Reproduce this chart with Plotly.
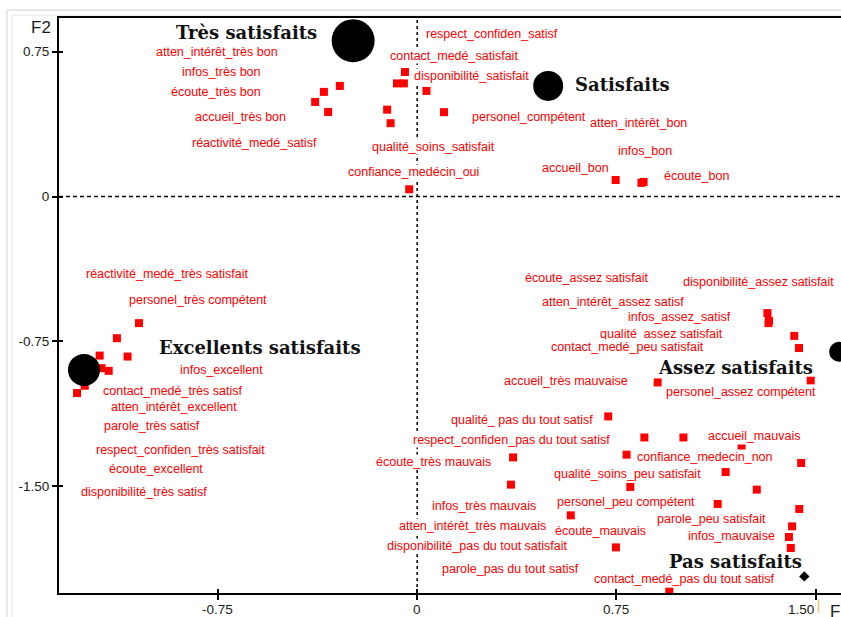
import plotly.graph_objects as go

# ---- data: modalities (red squares), F1 / F2 coordinates ----
mod_x = [-0.291, -0.351, -0.384, -0.335, -0.113, -0.100, -0.030, -0.046, -0.076, -0.050,
         0.035, 0.101, 0.747, 0.844, 0.852,
         -1.047, -1.130, -1.090, -1.195, -1.161, -1.188, -1.251, -1.280, -1.240,
         1.318, 1.322, 1.324, 1.419, 1.437, 1.481, 0.905,
         0.719, 0.855, 1.002, 1.221, 0.788, 0.361, 1.445, 1.161, 0.353, 0.802,
         1.278, 1.131, 1.438, 0.578, 1.411, 1.399, 0.748, 1.406, 0.949]
mod_y = [0.573, 0.542, 0.490, 0.438, 0.450, 0.380, 0.038, 0.645, 0.586, 0.586,
         0.547, 0.437, 0.086, 0.071, 0.076,
         -0.655, -0.733, -0.828, -0.823, -0.902, -0.888, -0.979, -1.017, -0.907,
         -0.603, -0.655, -0.643, -0.721, -0.784, -0.953, -0.962,
         -1.138, -1.247, -1.247, -1.304, -1.336, -1.350, -1.379, -1.426, -1.491, -1.503,
         -1.517, -1.591, -1.617, -1.650, -1.707, -1.762, -1.816, -1.819, -2.045]

# ---- data: modality labels and where they are written ----
lab_text = [
    "atten_intérêt_très bon", "infos_très bon", "écoute_très bon", "accueil_très bon",
    "réactivité_medé_satisf", "confiance_medécin_oui", "qualité_soins_satisfait",
    "respect_confiden_satisf", "contact_medé_satisfait", "disponibilité_satisfait",
    "personel_compétent", "atten_intérêt_bon", "infos_bon", "accueil_bon", "écoute_bon",
    "réactivité_medé_très satisfait", "personel_très compétent", "infos_excellent",
    "contact_medé_très satisf", "atten_intérêt_excellent", "parole_très satisf",
    "respect_confiden_très satisfait", "écoute_excellent", "disponibilité_très satisf",
    "écoute_assez satisfait", "disponibilité_assez satisfait", "atten_intérêt_assez satisf",
    "infos_assez_satisf", "qualité_assez satisfait", "contact_medé_peu satisfait",
    "accueil_très mauvaise", "personel_assez compétent",
    "qualité_ pas du tout satisf", "respect_confiden_pas du tout satisf", "accueil_mauvais",
    "confiance_medecin_non", "écoute_très mauvais", "qualité_soins_peu satisfait",
    "infos_très mauvais", "personel_peu compétent", "atten_intérêt_très mauvais",
    "écoute_mauvais", "parole_peu satisfait", "infos_mauvaise",
    "disponibilité_pas du tout satisfait", "parole_pas du tout satisf",
    "contact_medé_pas du tout satisf"]
lab_x = [-0.755, -0.736, -0.759, -0.666, -0.613, -0.015, 0.062, 0.283, 0.138, 0.204,
         0.421, 0.834, 0.857, 0.596, 1.052,
         -0.942, -0.825, -0.738, -0.922, -0.915, -0.999, -0.889, -0.984, -1.030,
         0.639, 1.285, 0.737, 0.989, 0.918, 0.791, 0.559, 1.220,
         0.395, 0.354, 1.267, 1.084, 0.062, 0.791, 0.252, 0.785, 0.208,
         0.688, 1.107, 1.182, 0.227, 0.351, 1.007]
lab_y = [0.750, 0.644, 0.543, 0.414, 0.279, 0.126, 0.259, 0.842, 0.728, 0.624,
         0.414, 0.383, 0.236, 0.147, 0.109,
         -0.400, -0.534, -0.900, -1.004, -1.090, -1.190, -1.310, -1.410, -1.529,
         -0.422, -0.440, -0.546, -0.621, -0.710, -0.781, -0.952, -1.009,
         -1.155, -1.259, -1.238, -1.348, -1.376, -1.435, -1.600, -1.583, -1.704,
         -1.733, -1.669, -1.755, -1.807, -1.928, -1.978]

# ---- data: satisfaction classes (black points) and their titles ----
grp_name = ["Très satisfaits", "Satisfaits", "Excellents satisfaits", "Assez satisfaits", "Pas satisfaits"]
grp_x = [-0.241, 0.493, -1.254, 1.588, 1.457]
grp_y = [0.807, 0.573, -0.897, -0.803, -1.966]
grp_lab_x = [-0.643, 0.771, -0.592, 1.199, 1.198]
grp_lab_y = [0.850, 0.578, -0.781, -0.883, -1.888]

x_ticks = [-0.75, 0, 0.75, 1.5]
x_tick_text = ["-0.75", "0", "0.75", "1.50"]
y_ticks = [0.75, 0, -0.75, -1.5]
y_tick_text = ["0.75", "0", "-0.75", "-1.50"]

# ---- styles ----
grp_size = [43, 30, 32, 20, 8]
grp_symbol = ["circle", "circle", "circle", "circle", "diamond"]
X_RANGE = [-1.348, 1.595]
Y_RANGE = [-2.052, 0.9245]
RED = "#ff0000"
LABEL_FONT = dict(family="Liberation Sans, Arial, sans-serif", size=12.5, color=RED)
TITLE_FONT = dict(family="DejaVu Serif, serif", size=18, color="#111111", weight="bold")
TICK_FONT = dict(family="Liberation Sans, Arial, sans-serif", size=13.5, color="#1a1a1a")
AXIS_TITLE_FONT = dict(family="Liberation Sans, Arial, sans-serif", size=17, color="#1a1a1a")

fig = go.Figure()
fig.add_trace(go.Scatter(x=mod_x, y=mod_y, mode="markers",
                         marker=dict(symbol="square", size=8, color=RED, opacity=1, line=dict(width=0)),
                         hoverinfo="skip", showlegend=False))
fig.add_trace(go.Scatter(x=grp_x, y=grp_y, mode="markers",
                         marker=dict(symbol=grp_symbol, size=grp_size, color="black", opacity=1,
                                     line=dict(width=0)),
                         hoverinfo="skip", showlegend=False))
# overlay axes used only to draw the inward half of the tick crosses
fig.add_trace(go.Scatter(x=[None], y=[None], xaxis="x2", yaxis="y2", mode="markers",
                         hoverinfo="skip", showlegend=False))

annotations = []
for t, x, y in zip(lab_text, lab_x, lab_y):
    annotations.append(dict(x=x, y=y, xref="x", yref="y", text=t, showarrow=False,
                            font=LABEL_FONT, bgcolor="white", borderpad=0,
                            xanchor="center", yanchor="middle"))
for t, x, y in zip(grp_name, grp_lab_x, grp_lab_y):
    annotations.append(dict(x=x, y=y, xref="x", yref="y", text=t, showarrow=False,
                            font=TITLE_FONT, xanchor="center", yanchor="middle"))
# x tick labels: the last one is pushed left of its tick, as in the original
for i, (v, t) in enumerate(zip(x_ticks, x_tick_text)):
    annotations.append(dict(x=v, y=-0.029, xref="x", yref="paper", text=t, showarrow=False,
                            font=TICK_FONT, xanchor="center", yanchor="middle",
                            xshift=(-15 if i == len(x_ticks) - 1 else 0)))
annotations.append(dict(x=-0.023, y=0.9835, xref="paper", yref="paper", text="F2", showarrow=False,
                        font=AXIS_TITLE_FONT, xanchor="center", yanchor="middle"))
annotations.append(dict(x=0.9834, y=-0.0325, xref="paper", yref="paper", text="F1", showarrow=False,
                        font=AXIS_TITLE_FONT, xanchor="left", yanchor="middle"))

shapes = [
    # dashed reference axes through the origin
    dict(type="line", xref="x", yref="paper", x0=0, x1=0, y0=0, y1=1, layer="below",
         line=dict(color="black", width=1.5, dash="3px,3px")),
    dict(type="line", xref="paper", yref="y", x0=0, x1=1, y0=0, y1=0, layer="below",
         line=dict(color="black", width=1.5, dash="4px,3px")),
    # window frame
    dict(type="rect", xref="paper", yref="paper", x0=-0.0665, x1=1.3, y0=-0.3, y1=1.0139,
         line=dict(color="#d2d2d2", width=1), layer="below"),
    dict(type="rect", xref="paper", yref="paper", x0=-0.0601, x1=1.3, y0=-0.3, y1=1.0052,
         line=dict(color="#e2e2e2", width=1), layer="below"),
    dict(type="line", xref="paper", yref="paper", x0=0.9712, x1=0.9712, y0=-0.0116, y1=-0.0342,
         line=dict(color="#f5c36e", width=1.5)),
]

axis_common = dict(showgrid=False, zeroline=False)
fig.update_layout(
    width=841, height=617,
    margin=dict(l=59, r=0, t=18, b=24, pad=0),
    paper_bgcolor="white", plot_bgcolor="white",
    xaxis=dict(range=X_RANGE, tickvals=x_ticks, showticklabels=False,
               showline=True, linecolor="black", linewidth=2, mirror=True,
               ticks="outside", ticklen=5, tickwidth=1.5, tickcolor="black", **axis_common),
    yaxis=dict(range=Y_RANGE, tickvals=y_ticks, ticktext=y_tick_text, tickfont=TICK_FONT,
               showline=True, linecolor="black", linewidth=2, mirror=False,
               ticks="outside", ticklen=5, tickwidth=1.5, tickcolor="black", **axis_common),
    xaxis2=dict(range=X_RANGE, overlaying="x", anchor="y2", tickvals=x_ticks, showticklabels=False,
                ticks="inside", ticklen=4, tickwidth=1.5, tickcolor="black", showline=False, **axis_common),
    yaxis2=dict(range=Y_RANGE, overlaying="y", anchor="x2", tickvals=y_ticks, showticklabels=False,
                ticks="inside", ticklen=4, tickwidth=1.5, tickcolor="black", showline=False, **axis_common),
    annotations=annotations, shapes=shapes, showlegend=False,
)

fig.write_html("out.html", config={"displayModeBar": False},
               post_script="document.body.style.margin='0';document.body.style.overflow='hidden';")
